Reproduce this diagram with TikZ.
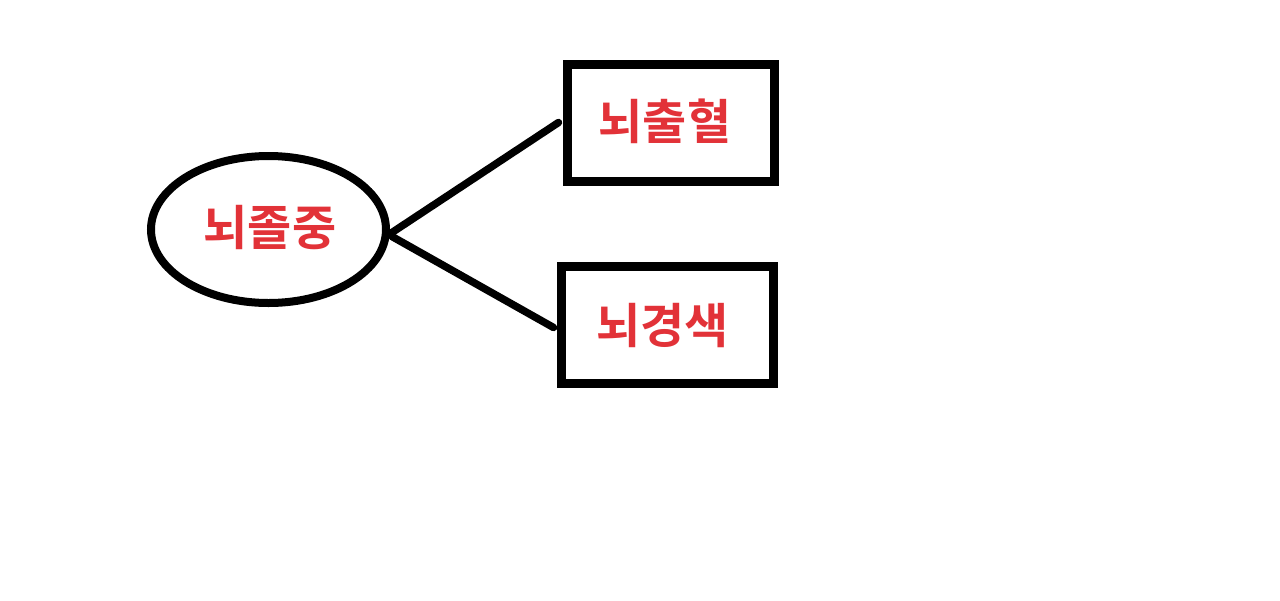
\documentclass[tikz,border=0pt]{standalone}
\usepackage{fontspec}
\newfontfamily\kor{Noto Sans CJK KR}[BoldFont={Noto Sans CJK KR Bold}]
\usetikzlibrary{shapes.geometric}
\definecolor{lblred}{RGB}{226,50,56}
\tikzset{
  lbl/.style={text=lblred, font=\kor\bfseries\fontsize{48}{48}\selectfont, inner sep=0pt},
  boxnode/.style={draw=black, line width=9pt, rectangle},
  ellnode/.style={draw=black, line width=8pt, ellipse, inner sep=0pt},
  conn/.style={draw=black, line width=7.5pt, line cap=round}
}
\begin{document}
\begin{tikzpicture}[x=1pt,y=-1pt]
\useasboundingbox[fill=white] (0,0) rectangle (1280,600);
\node[ellnode, minimum width=235pt, minimum height=147pt] (e) at (268.5,229.5) {};
\node[boxnode, minimum width=207pt, minimum height=117pt] (b1) at (670.5,122.5) {};
\node[boxnode, minimum width=212pt, minimum height=117pt] (b2) at (667,324.5) {};
\node[lbl] (t0) at (270,228) {뇌졸중};
\node[lbl] (t1) at (665,121) {뇌출혈};
\node[lbl] (t2) at (662.5,326) {뇌경색};
\draw[conn] ([xshift=2pt,yshift=-3pt]e.east) -- ([xshift=-4pt]b1.west);
\draw[conn] ([xshift=2pt,yshift=-7pt]e.east) -- ([xshift=-3pt,yshift=-3pt]b2.west);
\end{tikzpicture}
\end{document}
